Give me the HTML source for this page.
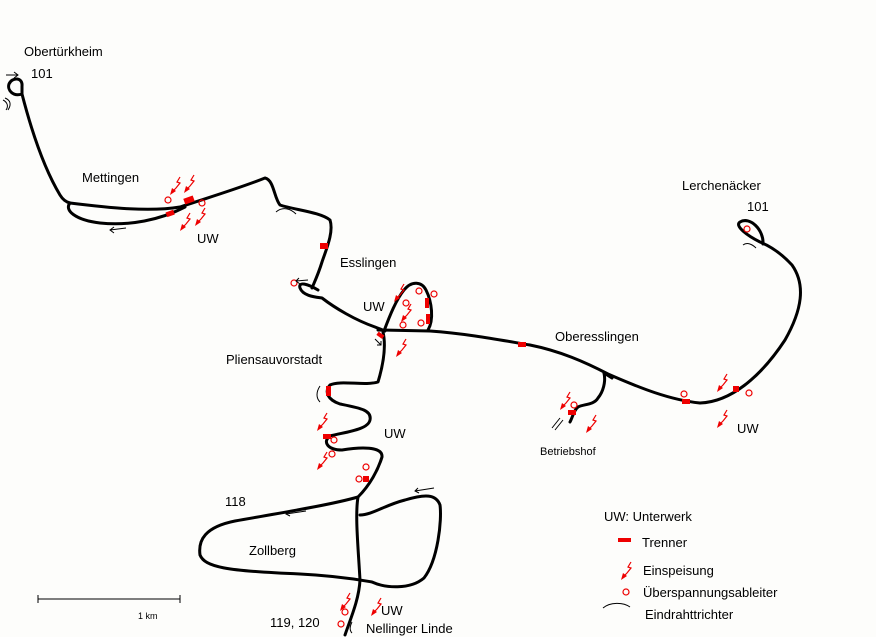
<!DOCTYPE html>
<html><head><meta charset="utf-8"><style>
html,body{margin:0;padding:0;background:#fff;}
svg{display:block;font-family:"Liberation Sans",sans-serif;}
</style></head><body>
<svg width="876" height="637" viewBox="0 0 876 637" xmlns="http://www.w3.org/2000/svg">
<defs>
<g id="ein"><path d="M6,-9 L3,-4 L6,-3 L2,2 L-1,5" fill="none" stroke="#e00" stroke-width="1.2"/><path d="M-4,9 L-2,2 L2,5 Z" fill="#e00"/></g>
</defs>
<rect width="876" height="637" fill="#fdfdfb"/>
<g fill="none" stroke="#000" stroke-width="3" stroke-linejoin="round" stroke-linecap="round">
<path d="M22,94 C13,97 7,90 9,84 C12,77 23,77 22,86 C22,90 22,92 22,94 C30,125 42,165 60,195 C63,200 66,202 70,203"/>
<path d="M70,203 C110,208 150,212 180,207 C210,197 240,188 265,178 C274,180 274,198 280,205 C295,210 320,212 330,220 C334,232 326,250 322,262 C318,275 314,283 312,288"/>
<path d="M70,203 C64,210 75,220 100,223 C130,226 160,220 185,207"/>
<path d="M318,290 C308,284 298,281 300,288 C303,296 315,297 322,298 C335,308 355,320 375,327 C380,329 383,330 385,331"/>
<path d="M384,331 C390,315 396,300 404,290 C412,280 422,282 426,290 C432,302 434,320 428,330"/>
<path d="M378,330 L430,331 C470,334 500,340 530,345 C560,351 585,362 608,374 C640,388 670,400 700,403 C730,402 760,378 785,340 C802,310 806,285 792,265 C780,252 770,246 760,242 C748,236 734,226 740,222 C750,216 764,230 763,244"/>
<path d="M604,373 C606,382 603,392 598,398 C594,405 584,404 578,407 C574,410 573,416 570,422"/>
<path d="M604,373 L612,378"/>
<path d="M383,332 C386,345 384,362 378,382 C365,386 340,380 330,385 C324,392 328,400 340,404 C360,408 372,410 370,420 C368,430 345,432 330,436 C322,442 328,450 342,450 C360,447 383,446 382,457 C378,470 370,485 358,497 C355,515 358,545 360,580 C359,600 350,620 345,635"/>
<path d="M358,497 C330,505 280,513 235,521 C205,527 198,540 200,555 C205,567 225,571 300,574 C340,576 360,580 372,582 C385,588 410,590 424,578 C438,560 442,520 440,505 C436,494 425,494 405,500 C385,505 372,515 360,515"/>
</g>
<g stroke="#000" stroke-width="1"><line x1="38" y1="599" x2="180" y2="599"/><line x1="38" y1="595" x2="38" y2="603"/><line x1="180" y1="595" x2="180" y2="603"/></g>
<g fill="#e00">
<rect x="184" y="197" width="10" height="6" transform="rotate(-20 189 200)"/><rect x="166" y="211" width="8" height="5" transform="rotate(-20 170 213)"/><rect x="320" y="243" width="8" height="6"/><rect x="425" y="298" width="4" height="10"/><rect x="426" y="314" width="4" height="10"/>
<rect x="518" y="342" width="8" height="5"/><rect x="682" y="399" width="8" height="5"/><rect x="733" y="386" width="6" height="6"/><rect x="568" y="410" width="8" height="5"/>
<rect x="323" y="434" width="8" height="5"/><rect x="363" y="476" width="6" height="6"/><rect x="326" y="386" width="5" height="10"/><rect x="377" y="333" width="7" height="4" transform="rotate(35 380 335)"/>
<rect x="618" y="538" width="13" height="4"/>
</g>
<g fill="none" stroke="#e00" stroke-width="1.2">
<circle cx="168" cy="200" r="3"/><circle cx="202" cy="203" r="3"/><circle cx="419" cy="291" r="3"/><circle cx="434" cy="294" r="3"/><circle cx="406" cy="303" r="3"/><circle cx="403" cy="325" r="3"/><circle cx="421" cy="323" r="3"/><circle cx="294" cy="283" r="3"/>
<circle cx="747" cy="229" r="3"/><circle cx="684" cy="394" r="3"/><circle cx="749" cy="393" r="3"/><circle cx="574" cy="405" r="3"/>
<circle cx="334" cy="440" r="3"/><circle cx="332" cy="454" r="3"/><circle cx="366" cy="467" r="3"/><circle cx="359" cy="479" r="3"/><circle cx="345" cy="612" r="3"/><circle cx="341" cy="624" r="3"/><circle cx="626" cy="592" r="3"/>
</g>
<g>
<use href="#ein" x="174" y="186"/><use href="#ein" x="188" y="184"/><use href="#ein" x="184" y="222"/><use href="#ein" x="199" y="217"/>
<use href="#ein" x="398" y="293"/><use href="#ein" x="405" y="313"/><use href="#ein" x="400" y="348"/>
<use href="#ein" x="564" y="401"/><use href="#ein" x="590" y="424"/><use href="#ein" x="721" y="383"/><use href="#ein" x="721" y="419"/>
<use href="#ein" x="321" y="422"/><use href="#ein" x="321" y="461"/><use href="#ein" x="344" y="602"/><use href="#ein" x="375" y="607"/>
<use href="#ein" x="625" y="571"/>
</g>
<g stroke="#000" stroke-width="1" fill="none">
<path d="M6,75 H18 M14,72 L18,75 L14,78"/><path d="M110,230 L126,228 M114,227 L110,230 L114,233"/>
<path d="M296,281 L308,280 M299,278 L296,281 L300,284"/><path d="M375,339 L381,345 M381,341 L381,345 L377,345"/>
<path d="M286,514 L306,511 M289,511 L286,514 L290,516"/><path d="M415,491 L434,488 M418,488 L415,491 L419,493"/>
<path d="M276,212 C283,206 291,209 296,214"/><path d="M743,245 C747,242 752,244 756,248"/>
<path d="M603,608 C610,602 623,602 630,607"/>
<path d="M5,98 C10,100 12,104 8,110 M3,100 C7,102 9,106 6,110"/><path d="M320,386 C316,392 316,398 320,402"/>
<path d="M552,428 L560,418 M555,430 L563,420"/><path d="M352,622 C350,626 349,630 352,633"/>
</g>
<g fill="#000" font-size="13">
<text x="24" y="56">Obertürkheim</text><text x="31" y="78">101</text>
<text x="82" y="182">Mettingen</text><text x="197" y="243">UW</text>
<text x="340" y="267">Esslingen</text><text x="363" y="311">UW</text>
<text x="226" y="364">Pliensauvorstadt</text><text x="384" y="438">UW</text>
<text x="555" y="341">Oberesslingen</text><text x="682" y="190">Lerchenäcker</text><text x="747" y="211">101</text>
<text x="737" y="433">UW</text><text x="540" y="455" font-size="11">Betriebshof</text>
<text x="225" y="506">118</text><text x="249" y="555">Zollberg</text>
<text x="270" y="627">119, 120</text><text x="381" y="615">UW</text><text x="366" y="633">Nellinger Linde</text>
<text x="138" y="619" font-size="9">1 km</text>
<text x="604" y="521">UW:  Unterwerk</text><text x="642" y="547">Trenner</text>
<text x="643" y="575">Einspeisung</text><text x="643" y="597">Überspannungsableiter</text><text x="645" y="619">Eindrahttrichter</text>
</g>
</svg>
</body></html>
